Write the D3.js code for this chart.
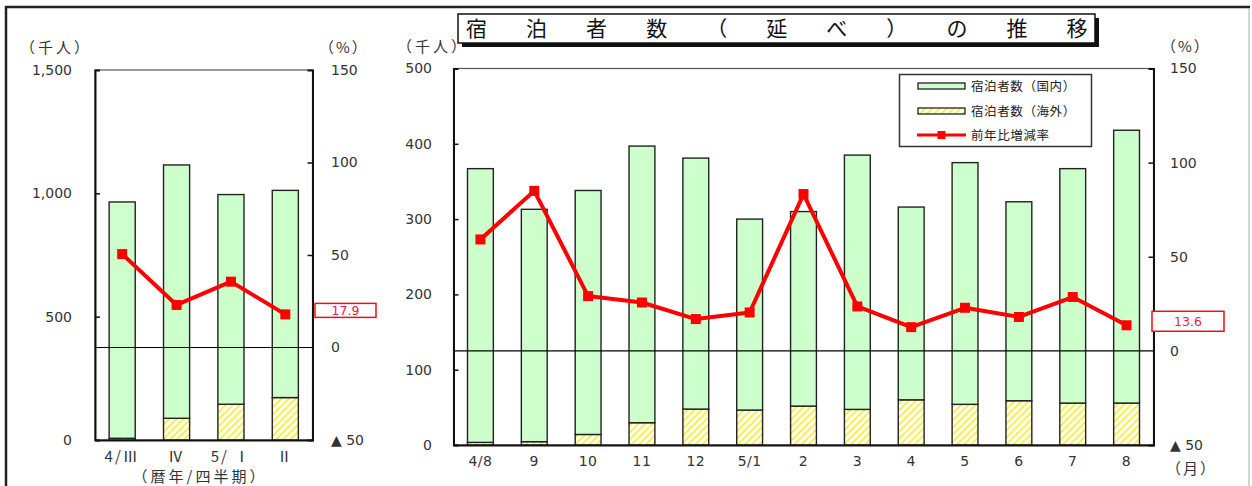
<!DOCTYPE html>
<html>
<head>
<meta charset="utf-8">
<script src="https://cdn.jsdelivr.net/npm/d3@7"></script>
<style>
body{margin:0;background:#fff;}
svg{display:block;}
text{font-family:"DejaVu Sans","Noto Sans CJK JP",sans-serif;fill:#333;}
.jp{font-family:"Noto Sans CJK JP",sans-serif;}
</style>
</head>
<body>
<svg id="chart" width="1252" height="486"></svg>
<script>
// 四半期
var quarters = ["4/Ⅲ","Ⅳ","5/ Ⅰ","Ⅱ"];
var qOverseas = [7, 88, 145, 172];
var qDomestic = [958, 1027, 850, 840];
var qRate = [50.5, 23.0, 35.6, 17.9];

// 月別
var months = ["4/8","9","10","11","12","5/1","2","3","4","5","6","7","8"];
var mOverseas = [3.5, 4.4, 14, 29.6, 47.7, 46.4, 51.7, 47.3, 60, 54, 58.8, 55.7, 55.7];
var mDomestic = [363.5, 308.6, 324, 367.4, 333.3, 253.6, 258.3, 337.7, 256, 321, 264.2, 311.3, 362.3];
var mRate = [59.2, 85.0, 29.1, 25.7, 16.9, 20.4, 83.3, 23.6, 12.6, 22.9, 18.0, 28.6, 13.6];

var qLeftTicks = [0, 500, 1000, 1500];
var mLeftTicks = [0, 100, 200, 300, 400, 500];
var rateTicks = [-50, 0, 50, 100, 150];

var titleText = "宿泊者数（延べ）の推移";

var svg = d3.select("#chart");

// 斜線パターン（海外）
var defs = svg.append("defs");
var pat = defs.append("pattern")
  .attr("id","hatch").attr("patternUnits","userSpaceOnUse")
  .attr("width",5).attr("height",5)
  .attr("patternTransform","rotate(45)");
pat.append("rect").attr("width",5).attr("height",5).attr("fill","#fffff0");
pat.append("rect").attr("width",2).attr("height",5).attr("fill","#f6ee5a");

// 外枠
svg.append("line").attr("x1",5).attr("x2",1250).attr("y1",7).attr("y2",7)
  .attr("stroke","#222").attr("stroke-width",2.5);
svg.append("line").attr("x1",6).attr("x2",6).attr("y1",6).attr("y2",486)
  .attr("stroke","#222").attr("stroke-width",2.5);
svg.append("line").attr("x1",1249).attr("x2",1249).attr("y1",8).attr("y2",486)
  .attr("stroke","#aaa").attr("stroke-width",1);

function fmt(v){ return v < 0 ? "▲ " + Math.abs(v) : d3.format(",")(v); }

function drawChart(o){
  var g = svg.append("g");
  var x = d3.scaleBand().domain(o.cats).range([o.x0, o.x1]).paddingInner(0.52).paddingOuter(0.26);
  var y = d3.scaleLinear().domain([0, o.ymax]).range([o.y1, o.y0]);
  var yr = d3.scaleLinear().domain([-50, 150]).range([o.y1, o.y0]);

  // 枠
  g.append("rect").attr("x",o.x0).attr("y",o.y0).attr("width",o.x1-o.x0).attr("height",o.y1-o.y0)
    .attr("fill","none").attr("stroke","#555").attr("stroke-width",1.2);

  var rows = o.cats.map(function(c,i){ return {c:c, ov:o.ov[i], dom:o.dom[i], rate:o.rate[i]}; });

  // 海外
  g.selectAll(".ov").data(rows).enter().append("rect")
    .attr("x",function(d){return x(d.c);})
    .attr("width",x.bandwidth())
    .attr("y",function(d){return y(d.ov);})
    .attr("height",function(d){return y(0)-y(d.ov);})
    .attr("fill","url(#hatch)").attr("stroke","#222").attr("stroke-width",1.4);
  // 国内
  g.selectAll(".dom").data(rows).enter().append("rect")
    .attr("x",function(d){return x(d.c);})
    .attr("width",x.bandwidth())
    .attr("y",function(d){return y(d.ov+d.dom);})
    .attr("height",function(d){return y(d.ov)-y(d.ov+d.dom);})
    .attr("fill","#ccffcc").attr("stroke","#222").attr("stroke-width",1.4);

  // 0 %線
  g.append("line").attr("x1",o.x0).attr("x2",o.x1).attr("y1",yr(0)).attr("y2",yr(0))
    .attr("stroke","#000").attr("stroke-width",1.2);

  // 軸
  var yAxis = g.append("g").attr("transform","translate("+o.x0+",0)")
    .call(d3.axisLeft(y).tickValues(o.leftTicks).tickSize(-5).tickPadding(o.x0-o.leftLabelX).tickFormat(fmt));
  var rAxis = g.append("g").attr("transform","translate("+o.x1+",0)")
    .call(d3.axisRight(yr).tickValues(rateTicks).tickSize(-5).tickPadding(o.rightLabelX-o.x1).tickFormat(fmt));
  var xAxis = g.append("g").attr("transform","translate(0,"+o.y1+")")
    .call(d3.axisBottom(x).tickSize(0).tickPadding(11));
  [yAxis, rAxis, xAxis].forEach(function(a){
    a.select(".domain").attr("stroke","#111").attr("stroke-width",2);
    a.selectAll(".tick line").attr("stroke","#111").attr("stroke-width",1.5);
    a.selectAll("text").attr("font-size",14).attr("fill","#333")
      .style("font-family",'"DejaVu Sans","Noto Sans CJK JP",sans-serif');
  });
  rAxis.selectAll(".tick").filter(function(d){return d==0||d==-50;}).select("line").remove();
  yAxis.selectAll(".tick").filter(function(d){return d==0||d==o.ymax;}).select("line").remove();
  rAxis.selectAll(".tick").filter(function(d){return d==150;}).select("line").remove();
  xAxis.selectAll("text").style("font-family",o.xFont).attr("font-size",o.xSize)
    .style("letter-spacing",o.xSpacing+"px");

  // 前年比
  var line = d3.line().x(function(d){return x(d.c)+x.bandwidth()/2;}).y(function(d){return yr(d.rate);});
  g.append("path").datum(rows).attr("d",line).attr("fill","none")
    .attr("stroke","#ff0000").attr("stroke-width",4).attr("stroke-linejoin","round");
  g.selectAll(".mk").data(rows).enter().append("rect")
    .attr("x",function(d){return x(d.c)+x.bandwidth()/2-5;})
    .attr("y",function(d){return yr(d.rate)-5;})
    .attr("width",10).attr("height",10).attr("fill","#ff0000");

  // 最新値ラベル
  var last = o.rate[o.rate.length-1];
  var cy = yr(last) + o.boxDy;
  g.append("rect").attr("x",o.boxX).attr("y",cy-o.boxH/2).attr("width",o.boxW).attr("height",o.boxH)
    .attr("fill","#fff").attr("stroke","#ee1111").attr("stroke-width",1.5);
  g.append("text").attr("x",o.boxX+o.boxW/2).attr("y",cy+4.5).attr("text-anchor","middle")
    .attr("font-size",12.5).style("fill","#e8204a").text(last.toFixed(1));

  // 単位
  g.append("text").attr("class","jp").attr("x",o.unitLX).attr("y",o.unitY).attr("font-size",15)
    .style("letter-spacing","3px").text("（千人）");
  g.append("text").attr("class","jp").attr("x",o.unitRX).attr("y",o.unitY).attr("font-size",15)
    .style("letter-spacing","2px").text("（%）");
  return {x:x, y:y, yr:yr};
}

drawChart({cats:quarters, ov:qOverseas, dom:qDomestic, rate:qRate, ymax:1500, leftTicks:qLeftTicks,
  x0:95, x1:312.5, y0:70, y1:440, leftLabelX:72, rightLabelX:331,
  xFont:'"Noto Sans CJK JP",sans-serif', xSize:15, xSpacing:2,
  boxX:315, boxW:61, boxH:14, boxDy:-4, unitLX:20, unitRX:319, unitY:53});

drawChart({cats:months, ov:mOverseas, dom:mDomestic, rate:mRate, ymax:500, leftTicks:mLeftTicks,
  x0:453.5, x1:1153.5, y0:68.5, y1:445, leftLabelX:432, rightLabelX:1170,
  xFont:'"DejaVu Sans",sans-serif', xSize:14, xSpacing:0.5,
  boxX:1152, boxW:72, boxH:20, boxDy:-4, unitLX:397, unitRX:1161, unitY:52});

// 横軸名
svg.append("text").attr("class","jp").attr("x",200).attr("y",482).attr("text-anchor","middle")
  .attr("font-size",15).style("letter-spacing","3px").text("（暦年/四半期）");
svg.append("text").attr("class","jp").attr("x",1166).attr("y",474)
  .attr("font-size",15).style("letter-spacing","2px").text("（月）");

// タイトル
svg.append("rect").attr("x",462).attr("y",18).attr("width",637).attr("height",29).attr("fill","#111");
svg.append("rect").attr("x",458).attr("y",14).attr("width",637).attr("height",29)
  .attr("fill","#fff").attr("stroke","#111").attr("stroke-width",1.5);
svg.append("g").selectAll("text").data(titleText.split("")).enter().append("text")
  .attr("class","jp").attr("x",function(d,i){return 476.5 + i*60.05;}).attr("y",36)
  .attr("text-anchor","middle").attr("font-size",21).style("fill","#111").text(function(d){return d;});

// 凡例
var lg = svg.append("g");
lg.append("rect").attr("x",899.5).attr("y",74.5).attr("width",192).attr("height",72)
  .attr("fill","#fff").attr("stroke","#333").attr("stroke-width",1.5);
var legendItems = ["宿泊者数（国内）","宿泊者数（海外）","前年比増減率"];
var legendY = [86, 111, 135];
legendItems.forEach(function(t,i){
  var yy = legendY[i];
  if(i<2){
    lg.append("rect").attr("x",918).attr("y",yy-3).attr("width",47).attr("height",6)
      .attr("fill", i==0 ? "#ccffcc" : "url(#hatch)").attr("stroke","#222").attr("stroke-width",1.3);
  } else {
    lg.append("line").attr("x1",917).attr("x2",966).attr("y1",yy).attr("y2",yy)
      .attr("stroke","#ff0000").attr("stroke-width",3);
    lg.append("rect").attr("x",937.5).attr("y",yy-4).attr("width",8).attr("height",8).attr("fill","#ff0000");
  }
  lg.append("text").attr("class","jp").attr("x",971).attr("y",yy+4.5).attr("font-size",12.5)
    .style("letter-spacing","0.6px").style("fill","#222").text(t);
});
</script>
</body>
</html>
